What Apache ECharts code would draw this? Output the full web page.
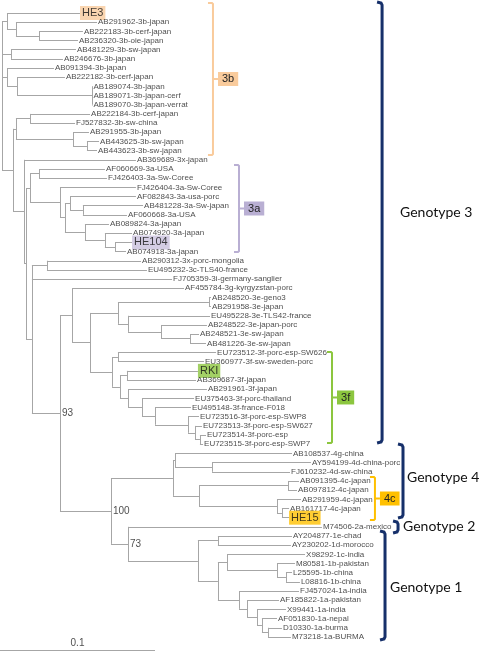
<!DOCTYPE html>
<html><head><meta charset="utf-8">
<script src="https://cdn.jsdelivr.net/npm/echarts@6/dist/echarts.min.js"></script>
<style>html,body{margin:0;padding:0;background:#fff}#c{width:480px;height:652px}</style>
</head><body><div id="c"></div>
<script>
// ---- leaves (display order, top to bottom) ----
const taxa = ['HE3','AB291962-3b-japan','AB222183-3b-cerf-japan','AB236320-3b-oie-japan','AB481229-3b-sw-japan','AB246676-3b-japan','AB091394-3b-japan','AB222182-3b-cerf-japan','AB189074-3b-japan','AB189071-3b-japan-cerf','AB189070-3b-japan-verrat','AB222184-3b-cerf-japan','FJ527832-3b-sw-china','AB291955-3b-japan','AB443625-3b-sw-japan','AB443623-3b-sw-japan','AB369689-3x-japan','AF060669-3a-USA','FJ426403-3a-Sw-Coree','FJ426404-3a-Sw-Coree','AF082843-3a-usa-porc','AB481228-3a-Sw-japan','AF060668-3a-USA','AB089824-3a-japan','AB074920-3a-japan','HE104','AB074918-3a-japan','AB290312-3x-porc-mongolia','EU495232-3c-TLS40-france','FJ705359-3i-germany-sanglier','AF455784-3g-kyrgyzstan-porc','AB248520-3e-geno3','AB291958-3e-japan','EU495228-3e-TLS42-france','AB248522-3e-japan-porc','AB248521-3e-sw-japan','AB481226-3e-sw-japan','EU723512-3f-porc-esp-SW626','EU360977-3f-sw-sweden-porc','RKI','AB369687-3f-japan','AB291961-3f-japan','EU375463-3f-porc-thailand','EU495148-3f-france-F018','EU723516-3f-porc-esp-SWP8','EU723513-3f-porc-esp-SW627','EU723514-3f-porc-esp','EU723515-3f-porc-esp-SWP7','AB108537-4g-china','AY594199-4d-china-porc','FJ610232-4d-sw-china','AB091395-4c-japan','AB097812-4c-japan','AB291959-4c-japan','AB161717-4c-japan','HE15','M74506-2a-mexico','AY204877-1e-chad','AY230202-1d-morocco','X98292-1c-india','M80581-1b-pakistan','L25595-1b-china','L08816-1b-china','FJ457024-1a-india','AF185822-1a-pakistan','X99441-1a-india','AF051830-1a-nepal','D10330-1a-burma','M73218-1a-BURMA'];

// root-to-tip distance of each leaf (substitutions/site)
const tipDepth = [0.0516,0.0626,0.0535,0.0503,0.0490,0.0406,0.0348,0.0419,0.0597,0.0597,0.0597,0.0581,0.0484,0.0574,0.0639,0.0626,
  0.0877,0.0677,0.0690,0.0877,0.0877,0.0923,0.0819,0.0703,0.0852,0.0852,0.0813,
  0.0910,0.0948,0.1110,0.1187,0.1361,0.1361,0.1355,0.1335,0.1284,0.1329,
  0.1394,0.1316,0.1277,0.1265,0.1335,0.1252,0.1232,0.1284,0.1303,0.1329,0.1310,
  0.1884,0.2006,0.1871,0.1929,0.1916,0.1942,0.1865,0.1865,
  0.2077,0.1884,0.1877,0.1968,0.1903,0.1884,0.1935,0.1929,0.1800,0.1845,0.1787,0.1819,0.1877];

// internal nodes: depth and children (number = leaf index, 'nK' = internal node K)
const nodeDepth = [0.0252,0.0103,0.0045,0.0071,0.0594,0.0110,0.0045,0.0194,0.0561,0.0471,0.0103,0.0013,
  0.0252,0.0535,0.0452,0.0742,0.0677,0.0548,0.0419,0.0387,0.0194,
  0.0303,0.1348,0.1226,0.1039,0.0826,0.0761,
  0.0761,0.0819,0.1290,0.1258,0.1213,0.1000,0.0916,0.0826,0.0774,0.0723,0.0581,0.0465,
  0.1368,0.1129,0.1858,0.1819,0.1787,0.1284,0.1116,
  0.1406,0.1845,0.1787,0.1465,0.1729,0.1690,0.1658,0.1594,0.1542,0.1406,0.1277,
  0.0826,0.0716,0.0387,0.0206,0.0155,0.0168,0.0084];
const nodeKids = [[2,3],[1,'n0'],[0,'n1'],[4,5],[8,9,10],[7,'n4'],[6,'n5'],[11,12],[14,15],[13,'n8'],['n7','n9'],['n2','n3','n6','n63'],
  [17,18],[21,22],[20,'n13'],[25,26],[24,'n15'],[23,'n16'],['n14','n17'],[19,'n18'],['n12','n19'],
  [27,28],[31,32],[35,36],[34,'n23'],[33,'n24'],['n22','n25'],
  [37,38],[39,40],[46,47],[45,'n29'],[44,'n30'],[43,'n31'],[42,'n32'],[41,'n33'],['n28','n34'],['n27','n35'],['n26','n36'],[30,'n37'],
  [49,50],[48,'n39'],[51,52],[54,55],[53,'n42'],['n41','n43'],['n40','n44'],
  [57,58],[61,62],[60,'n47'],[59,'n48'],[67,68],[66,'n50'],[65,'n51'],[64,'n52'],[63,'n53'],['n49','n54'],['n46','n55'],
  [56,'n56'],['n45','n57'],['n38','n58'],['n21',29,'n59'],[16,'n62'],['n20','n60'],['n10','n61']];

const bootNodes = ['n57','n58','n59'];
const bootValues = ['73','100','93'];

const highlightNames = ['HE3','HE104','RKI','HE15'];
const highlightColors = ['#f9cb9c','#c9c0dd','#8cc63f','#ffc000'];

const subtypeNames = ['3b','3a','3f','4c'];
const subtypeX = [0.1374,0.1542,0.2142,0.2419];
const subtypeFrom = [-1.09,16.56,36.94,50.57];
const subtypeTo = [15.48,26.05,46.86,55.25];
const subtypeColors = ['#f9cb9c','#b9afd3','#8cc63f','#ffc000'];

const genoNames = ['Genotype 3','Genotype 4','Genotype 2','Genotype 1'];
const genoX = [0.2465,0.2600,0.2568,0.2484];
const genoFrom = [-1.2,46.97,55.36,56.45];
const genoTo = [46.86,55.03,56.67,68.33];
const genoLabelRow = [21.7,50.67,56.0,62.66];
const genoLabelDx = [18,4,5,5];

const scaleValue = 0.1;
const scaleRow = 69.5;

// ---- build geometry ----
const nodeY = {};
function yOf(k){
  if (typeof k === 'number') return k;
  const i = +k.slice(1);
  if (nodeY[i] !== undefined) return nodeY[i];
  const ys = nodeKids[i].map(yOf);
  nodeY[i] = (ys[0] + ys[ys.length-1]) / 2;
  return nodeY[i];
}
function xOf(k){ return typeof k === 'number' ? tipDepth[k] : nodeDepth[+k.slice(1)]; }
const segs = [];
nodeKids.forEach((kids, i) => {
  const x = nodeDepth[i];
  const ys = kids.map(yOf);
  segs.push({coords: [[x, ys[0]], [x, ys[ys.length-1]]]});
  kids.forEach((k, j) => segs.push({coords: [[x, ys[j]], [xOf(k), ys[j]]]}));
});
segs.push({coords: [[0, scaleRow], [scaleValue, scaleRow]]});

const leafData = taxa.map((t, i) => {
  const h = highlightNames.indexOf(t);
  const item = {value: [tipDepth[i], i], name: t};
  if (h >= 0) item.label = {backgroundColor: highlightColors[h], padding: [2,2,1,2], fontSize: 11, distance: 0, color: '#111'};
  return item;
});
const bootData = bootNodes.map((n, i) => ({value: [xOf(n), yOf(n)], name: bootValues[i]}));

const chart = echarts.init(document.getElementById('c'), null, {renderer: 'canvas'});
chart.setOption({
  animation: false,
  grid: {left: 0, top: 13, width: 480, height: 639},
  xAxis: {type: 'value', min: 0, max: 480/1550, show: false},
  yAxis: {type: 'value', min: 0, max: 639/9.176, inverse: true, show: false},
  series: [
    {type: 'lines', coordinateSystem: 'cartesian2d', data: segs, clip: false,
     lineStyle: {color: '#a6a6a6', width: 1, opacity: 1}, silent: true},
    {type: 'scatter', data: leafData, symbolSize: 0, clip: false,
     label: {show: true, position: 'right', distance: 1, formatter: '{b}', fontSize: 8,
       fontFamily: 'Liberation Sans', color: '#1a1a1a'}},
    {type: 'scatter', data: bootData, symbolSize: 0, clip: false,
     label: {show: true, position: 'right', distance: 2, formatter: '{b}', fontSize: 10,
       fontFamily: 'Liberation Sans', color: '#222'}},
    {type: 'scatter', data: [{value: [scaleValue/2, scaleRow], name: String(scaleValue)}], symbolSize: 0, clip: false,
     label: {show: true, position: 'top', distance: 2, formatter: '{b}', fontSize: 10,
       fontFamily: 'Liberation Sans', color: '#222'}},
    {type: 'custom', clip: false,
     data: subtypeNames.map((n, i) => [subtypeX[i], subtypeFrom[i], subtypeTo[i], i]),
     renderItem: (params, api) => {
       const i = api.value(3);
       const p1 = api.coord([api.value(0), api.value(1)]);
       const p2 = api.coord([api.value(0), api.value(2)]);
       const mid = (p1[1] + p2[1]) / 2;
       const c = subtypeColors[i];
       return {type: 'group', children: [
         {type: 'polyline', shape: {points: [[p1[0]-5, p1[1]], [p1[0]-1, p1[1]], [p1[0], p1[1]+1], [p2[0], p2[1]-1], [p2[0]-1, p2[1]], [p2[0]-5, p2[1]]]},
          style: {stroke: c, lineWidth: 2, fill: null}},
         {type: 'line', shape: {x1: p1[0], y1: mid, x2: p1[0]+5, y2: mid}, style: {stroke: c, lineWidth: 2}},
         {type: 'text', x: p1[0]+5, y: mid, style: {text: subtypeNames[i], fill: '#222', font: '11px "Liberation Sans"',
           backgroundColor: c, padding: [2,4,1,4], verticalAlign: 'middle', align: 'left'}}
       ]};
     }},
    {type: 'custom', clip: false,
     data: genoNames.map((n, i) => [genoX[i], genoFrom[i], genoTo[i], i, genoLabelRow[i]]),
     renderItem: (params, api) => {
       const i = api.value(3);
       const p1 = api.coord([api.value(0), api.value(1)]);
       const p2 = api.coord([api.value(0), api.value(2)]);
       const pl = api.coord([api.value(0), api.value(4)]);
       const c = '#16306a';
       return {type: 'group', children: [
         {type: 'polyline', shape: {points: [[p1[0]-5, p1[1]], [p1[0]-1, p1[1]+1], [p1[0], p1[1]+3], [p2[0], p2[1]-3], [p2[0]-1, p2[1]-1], [p2[0]-5, p2[1]]]},
          style: {stroke: c, lineWidth: 3, fill: null}},
         {type: 'text', x: pl[0] + genoLabelDx[i], y: pl[1], style: {text: genoNames[i], fill: '#111', font: '14px Lato',
           verticalAlign: 'middle', align: 'left'}}
       ]};
     }}
  ]
});
</script></body></html>
